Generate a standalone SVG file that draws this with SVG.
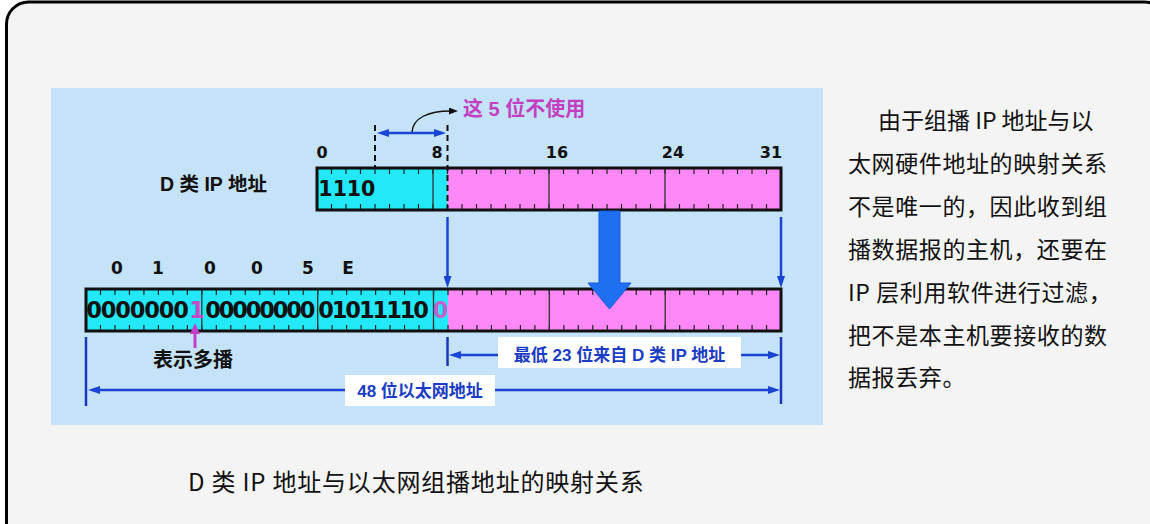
<svg xmlns="http://www.w3.org/2000/svg" width="1150" height="524" viewBox="0 0 1150 524">
<style>
.bl{font-family:"Liberation Sans","Noto Sans CJK SC",sans-serif;font-weight:bold}
.dg{font-family:"DejaVu Sans",sans-serif;font-weight:bold;text-anchor:middle}
.para{font-family:"Noto Sans CJK SC",sans-serif;font-size:23px;fill:#111}
.bar{stroke:#111;stroke-width:3;fill:none}
.tk{stroke:#222;stroke-width:6;fill:none}
.div{stroke:#333;stroke-width:1.3}
.bline{stroke:#1a44d4;stroke-width:2.5;fill:none}
.dimv{stroke:#1838b8;stroke-width:2.5}
</style>
<defs>
<marker id="ab" markerUnits="userSpaceOnUse" markerWidth="12" markerHeight="8" refX="6" refY="4" orient="auto-start-reverse"><path d="M0,0L12,4L0,8z" fill="#1a44d4"/></marker>
<marker id="ak" markerUnits="userSpaceOnUse" markerWidth="9" markerHeight="7" refX="2" refY="3.5" orient="auto"><path d="M0,0L9,3.5L0,7z" fill="#111"/></marker>
</defs>
<g id="frame">
<rect x="6.5" y="2" width="1160" height="600" rx="22" fill="#f4f4f4" stroke="#000" stroke-width="3"/>
</g>
<g id="panel">
<rect x="51" y="88" width="772" height="337" fill="#c4e2f8"/>
</g>
<g id="ip-bar">
<rect x="317" y="168" width="130.5" height="42" fill="#22e8f8"/>
<rect x="447.5" y="168" width="333.5" height="42" fill="#ff88f8"/>
<line class="tk" x1="317" y1="171" x2="781" y2="171" stroke-dasharray="1.2 13.3" stroke-dashoffset="0.6"/>
<line class="tk" x1="317" y1="207" x2="781" y2="207" stroke-dasharray="1.2 13.3" stroke-dashoffset="0.6"/>
<path class="div" d="M433,168V210M549,168V210M665,168V210"/>
<rect class="bar" x="317" y="168" width="464" height="42"/>
<text class="dg" font-size="20.5" y="195.5" x="325.5 339.8 354 368.2" fill="#111">1110</text>
<text class="dg" font-size="16" y="158" x="322" fill="#111">0</text>
<text class="dg" font-size="16" y="158" x="437" fill="#111">8</text>
<text class="dg" font-size="16" y="158" x="557" fill="#111">16</text>
<text class="dg" font-size="16" y="158" x="673" fill="#111">24</text>
<text class="dg" font-size="16" y="158" x="771" fill="#111">31</text>
</g>
<g id="ip-label">
<text class="bl" font-size="19.5" x="160" y="191" fill="#111">D 类 IP 地址</text>
</g>
<g id="eth-bar">
<rect x="86" y="289" width="362" height="42" fill="#22e8f8"/>
<rect x="448" y="289" width="333" height="42" fill="#ff88f8"/>
<line class="tk" x1="86" y1="292" x2="781" y2="292" stroke-dasharray="1.2 13.28" stroke-dashoffset="0.6"/>
<line class="tk" x1="86" y1="328" x2="781" y2="328" stroke-dasharray="1.2 13.28" stroke-dashoffset="0.6"/>
<path class="div" d="M201.8,289V331M317.7,289V331M433.5,289V331M549.3,289V331M665.2,289V331"/>
<rect class="bar" x="86" y="289" width="695" height="42"/>
<text class="dg" font-size="22.5" y="318" fill="#111" x="94 108.5 123 137.5 152 166.5 181">0000000</text>
<text class="dg" font-size="22.5" y="318" fill="#c04cc8" x="197">1</text>
<text class="dg" font-size="22.5" y="318" fill="#111" x="213 226.5 240 253.5 267 280.5 294 307.5">00000000</text>
<text class="dg" font-size="22.5" y="318" fill="#111" x="326 339.6 353.2 366.8 380.4 394 407.6 421.2">01011110</text>
<text class="dg" font-size="22.5" y="318" fill="#c060c8" x="440.5">0</text>
</g>
<g id="hex-labels">
<text class="dg" font-size="17" y="274" fill="#111" x="117">0</text>
<text class="dg" font-size="17" y="274" fill="#111" x="158">1</text>
<text class="dg" font-size="17" y="274" fill="#111" x="210">0</text>
<text class="dg" font-size="17" y="274" fill="#111" x="257">0</text>
<text class="dg" font-size="17" y="274" fill="#111" x="308">5</text>
<text class="dg" font-size="17" y="274" fill="#111" x="348">E</text>
</g>
<g id="connectors">
<path d="M375,125V168M447.5,125V215" stroke="#111" stroke-width="2" stroke-dasharray="6 4"/>
<line class="bline" x1="383" y1="133" x2="440" y2="133" stroke-width="3" marker-start="url(#ab)" marker-end="url(#ab)"/>
<path d="M412,132C413,118 428,111 451,111" fill="none" stroke="#111" stroke-width="1.4" marker-end="url(#ak)"/>
<line class="bline" x1="447.5" y1="217" x2="447.5" y2="282" marker-end="url(#ab)"/>
<line class="bline" x1="781" y1="217" x2="781" y2="282" marker-end="url(#ab)"/>
<polygon points="599,211 620,211 620,283 631,283 609.5,309 588,283 599,283" fill="#1e6ff2" stroke="#1a5ad8" stroke-width="1"/>
<line x1="195" y1="348" x2="195" y2="331" stroke="#c040c8" stroke-width="3"/>
<polygon points="190,334 200,334 195,323" fill="#c040c8"/>
<path class="dimv" d="M447.5,337V366M781,337V404M86,337V406"/>
<line class="bline" x1="455" y1="355" x2="774" y2="355" marker-start="url(#ab)" marker-end="url(#ab)"/>
<line class="bline" x1="94" y1="390" x2="774" y2="390" marker-start="url(#ab)" marker-end="url(#ab)"/>
</g>
<g id="label-unused">
<text class="bl" font-size="20" x="463" y="116" fill="#c23fc2">这 5 位不使用</text>
</g>
<g id="label-multicast">
<text class="bl" font-size="20" x="153" y="367" fill="#111">表示多播</text>
</g>
<g id="label-low23">
<rect x="498" y="337" width="243" height="31" fill="#fff"/>
<text class="bl" font-size="17" x="619.5" y="361" fill="#1a3cc4" text-anchor="middle">最低 23 位来自 D 类 IP 地址</text>
</g>
<g id="label-48">
<rect x="345" y="375" width="150" height="31" fill="#fff"/>
<text class="bl" font-size="17" x="420" y="397" fill="#1a3cc4" text-anchor="middle">48 位以太网地址</text>
</g>
<g id="paragraph">
<text class="para" x="878" y="128.5">由于组播 IP 地址与以</text>
<text class="para" x="848" y="172" letter-spacing="0.6">太网硬件地址的映射关系</text>
<text class="para" x="848" y="215" letter-spacing="0.6">不是唯一的，因此收到组</text>
<text class="para" x="848" y="258" letter-spacing="0.6">播数据报的主机，还要在</text>
<text class="para" x="848" y="300.5" letter-spacing="0.6">IP 层利用软件进行过滤，</text>
<text class="para" x="848" y="343.5" letter-spacing="0.6">把不是本主机要接收的数</text>
<text class="para" x="848" y="386" letter-spacing="0.6">据报丢弃。</text>
</g>
<g id="caption">
<text x="188" y="491" font-family="Noto Sans CJK SC,sans-serif" font-size="24" letter-spacing="0.8" fill="#111">D 类 IP 地址与以太网组播地址的映射关系</text>
</g>
</svg>
